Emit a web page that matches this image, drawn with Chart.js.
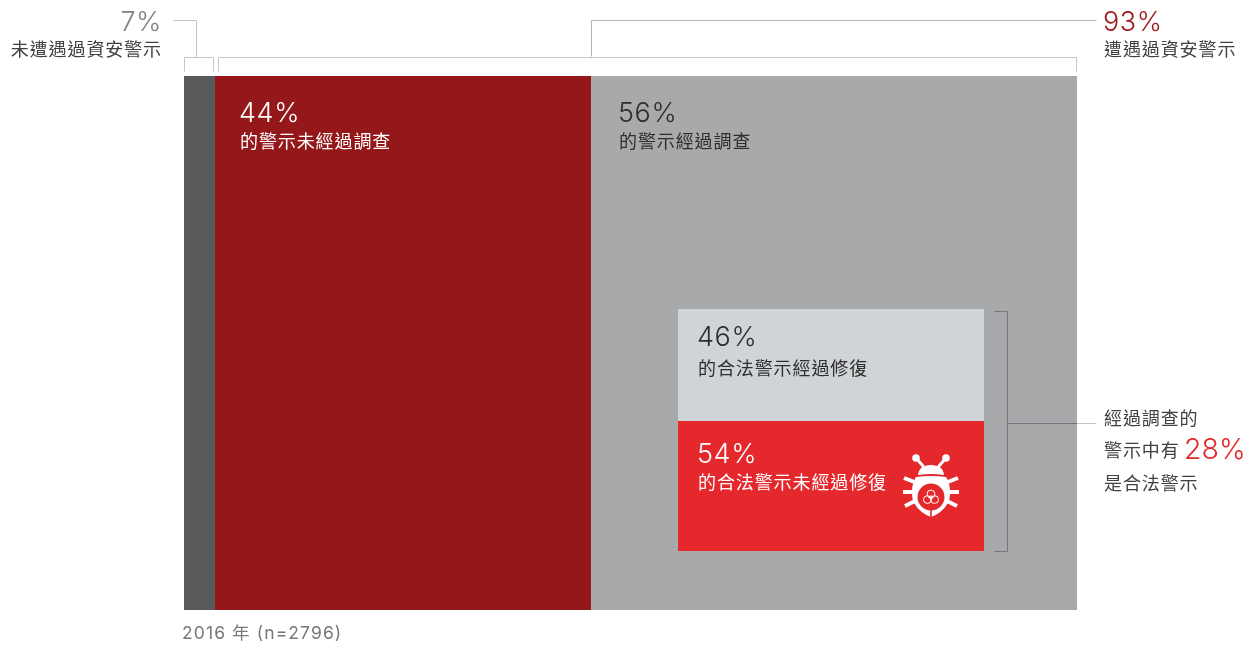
<!DOCTYPE html>
<html>
<head>
<meta charset="utf-8">
<title>資安警示</title>
<script src="https://cdn.jsdelivr.net/npm/chart.js@4"></script>
<style>
html, body { margin: 0; padding: 0; background: #fff; }
canvas { display: block; }
</style>
</head>
<body>
<canvas id="grafico" width="1249" height="646"></canvas>
<script>
// bloques, en % del ancho y alto del area del grafico (medidos de la imagen)
const categorias = ['未遭遇過資安警示', '的警示未經過調查', '的警示經過調查', '的合法警示經過修復', '的合法警示未經過修復'];
const xInicio = [0, 3.47, 45.58, 55.32, 55.32];
const xFin = [3.47, 45.58, 100, 89.59, 89.59];
const yInicio = [0, 0, 0, 43.63, 64.6];
const yFin = [100, 100, 100, 64.6, 88.95];
const colores = ['#58595b', '#94171a', '#a7a9ab', '#d1d4d7', '#e5282c'];

const pctNoAlerta = '7%';
const pctAlerta = '93%';
const pctBloques = ['44%', '56%', '46%', '54%'];
const pctLegal = '28%';
const notaLegal = ['經過調查的', '警示中有', '是合法警示'];
const tituloAlerta = '遭遇過資安警示';
const pie = '2016 年 (n=2796)';

const CJK = '"Noto Sans CJK TC", "Noto Sans", sans-serif';
const NUM = 'Inter, Roboto, sans-serif';

function texto(ctx, t, x, y, color, align, font, sp) {
    ctx.font = font;
    ctx.fillStyle = color;
    ctx.textAlign = align || 'left';
    ctx.textBaseline = 'alphabetic';
    ctx.letterSpacing = sp || '0px';
    ctx.fillText(t, x, y);
}

function pct(ctx, t, x, y, color, align) {
    texto(ctx, t, x, y, color, align, '300 27px ' + NUM, '0.6px');
}

function sub(ctx, t, x, y, color, align) {
    texto(ctx, t, x, y, color, align, '400 18px ' + CJK, '0.9px');
}

function linea(ctx, color, puntos) {
    ctx.strokeStyle = color;
    ctx.lineWidth = 1;
    ctx.beginPath();
    puntos.forEach((p, i) => {
        if (i == 0) ctx.moveTo(p[0] + 0.5, p[1] + 0.5);
        else ctx.lineTo(p[0] + 0.5, p[1] + 0.5);
    });
    ctx.stroke();
}

// el bichito del bloque rojo
function bicho(ctx, cx, cy) {
    ctx.save();
    ctx.translate(cx, cy);
    ctx.fillStyle = '#fff';
    ctx.strokeStyle = '#fff';

    // antenas
    ctx.lineCap = 'round';
    ctx.lineWidth = 3;
    [-1, 1].forEach(s => {
        ctx.beginPath();
        ctx.moveTo(s * 15, -28);
        ctx.lineTo(s * 8, -20);
        ctx.stroke();
        ctx.beginPath();
        ctx.arc(s * 15, -28, 3.8, 0, Math.PI * 2);
        ctx.fill();
    });

    // cabeza
    ctx.beginPath();
    ctx.moveTo(-13, -11);
    ctx.quadraticCurveTo(-12, -21, 0, -21);
    ctx.quadraticCurveTo(12, -21, 13, -11);
    ctx.quadraticCurveTo(0, -13, -13, -11);
    ctx.fill();

    // patas
    ctx.lineCap = 'butt';
    ctx.lineWidth = 4;
    [-1, 1].forEach(s => {
        [[14, -3, 27, -8], [15, 6, 28, 6], [14, 14, 26, 20]].forEach(p => {
            ctx.beginPath();
            ctx.moveTo(s * p[0], p[1]);
            ctx.lineTo(s * p[2], p[3]);
            ctx.stroke();
        });
    });

    // cuerpo
    ctx.beginPath();
    ctx.moveTo(-15, -9);
    ctx.quadraticCurveTo(0, -11, 15, -9);
    ctx.bezierCurveTo(20, -2, 20, 11, 17, 17);
    ctx.quadraticCurveTo(11, 27, 0, 31);
    ctx.quadraticCurveTo(-11, 27, -17, 17);
    ctx.bezierCurveTo(-20, 11, -20, -2, -15, -9);
    ctx.fill();

    // circulo interior y ranura
    ctx.fillStyle = '#e5282c';
    ctx.beginPath();
    ctx.arc(0, 11, 13.5, 0, Math.PI * 2);
    ctx.fill();
    ctx.fillRect(-0.8, 20, 1.6, 12);

    // biohazard
    ctx.strokeStyle = '#fff';
    ctx.lineWidth = 1;
    [[0, 8], [-3.6, 13.6], [3.6, 13.6]].forEach(p => {
        ctx.beginPath();
        ctx.arc(p[0], p[1], 3.9, 0, Math.PI * 2);
        ctx.stroke();
    });
    ctx.beginPath();
    ctx.arc(0, 11.5, 1.6, 0, Math.PI * 2);
    ctx.stroke();
    ctx.restore();
}

// chart.js da el grosor de la barra en pixeles; aqui se pasa al rango de la escala y
const altoPorEscala = {
    id: 'altoPorEscala',
    afterDatasetsUpdate(chart) {
        const y = chart.scales.y;
        chart.getDatasetMeta(0).data.forEach((el, i) => {
            const a = y.getPixelForValue(yInicio[i]);
            const b = y.getPixelForValue(yFin[i]);
            el.y = (a + b) / 2;
            el.height = b - a;
        });
    }
};

const anotaciones = {
    id: 'anotaciones',
    afterDatasetsDraw(chart) {
        const ctx = chart.ctx;
        const { x, y } = chart.scales;
        const px = v => Math.round(x.getPixelForValue(v));
        const py = v => Math.round(y.getPixelForValue(v));
        const arriba = py(0);
        const abajo = py(100);
        const claro = '#c4c5c7';

        ctx.save();

        // corchetes de arriba
        const yCorchete = arriba - 19;
        const yPunta = arriba - 5;
        const yConector = arriba - 56;
        linea(ctx, claro, [[px(xInicio[0]), yPunta], [px(xInicio[0]), yCorchete], [px(xFin[0]) - 2, yCorchete], [px(xFin[0]) - 2, yPunta]]);
        linea(ctx, claro, [[px(xInicio[1]) + 3, yPunta], [px(xInicio[1]) + 3, yCorchete], [px(100) - 1, yCorchete], [px(100) - 1, yPunta]]);
        linea(ctx, claro, [[px(xFin[0] / 2) - 3, yCorchete], [px(xFin[0] / 2) - 3, yConector], [px(xInicio[0]) - 11, yConector]]);
        linea(ctx, '#b4b5b7', [[px(xInicio[2]), yCorchete - 1], [px(xInicio[2]), yConector], [px(100) + 19, yConector]]);

        // corchete del recuadro
        const xCorchete = px(xFin[3]) + 23;
        const yA = py(yInicio[3]) + 2;
        const yB = py(yFin[4]);
        const yMedio = py(yInicio[4]) + 2;
        linea(ctx, '#77787b', [[px(xFin[3]) + 10, yA], [xCorchete, yA], [xCorchete, yB], [px(xFin[3]) + 10, yB]]);
        linea(ctx, '#77787b', [[xCorchete, yMedio], [px(100), yMedio]]);
        linea(ctx, claro, [[px(100), yMedio], [px(100) + 19, yMedio]]);

        // textos de arriba
        const xIzq = px(xInicio[0]) - 23;
        const xDer = px(100) + 27;
        pct(ctx, pctNoAlerta, xIzq + 1, 31, '#808285', 'right');
        sub(ctx, categorias[0], xIzq + 1, 56, '#414042', 'right');
        pct(ctx, pctAlerta, xDer - 1, 31, '#9e1b20');
        sub(ctx, tituloAlerta, xDer, 56, '#414042');

        // textos dentro de los bloques
        pct(ctx, pctBloques[0], px(xInicio[1]) + 24, 122, '#fff');
        sub(ctx, categorias[1], px(xInicio[1]) + 25, 148, '#fff');
        pct(ctx, pctBloques[1], px(xInicio[2]) + 27, 122, '#2e2e2e');
        sub(ctx, categorias[2], px(xInicio[2]) + 28, 148, '#2e2e2e');
        pct(ctx, pctBloques[2], px(xInicio[3]) + 19, py(yInicio[3]) + 37, '#2e2e2e');
        sub(ctx, categorias[3], px(xInicio[3]) + 20, py(yInicio[3]) + 66, '#2e2e2e');
        pct(ctx, pctBloques[3], px(xInicio[4]) + 19, py(yInicio[4]) + 42, '#fff');
        sub(ctx, categorias[4], px(xInicio[4]) + 20, py(yInicio[4]) + 68, '#fff');

        // nota de la derecha
        sub(ctx, notaLegal[0], xDer, 425, '#414042');
        sub(ctx, notaLegal[1], xDer, 457, '#414042');
        texto(ctx, pctLegal, xDer + 80, 459, '#e5282c', 'left', '300 28.5px ' + NUM, '0px');
        sub(ctx, notaLegal[2], xDer, 490, '#414042');

        // pie
        texto(ctx, pie, px(0) - 2, abajo + 29, '#77787b', 'left', '400 17.5px ' + NUM + ', ' + CJK, '1.1px');

        bicho(ctx, px(xFin[4]) - 53, py(yInicio[4]) + 65);
        ctx.restore();
    }
};

new Chart(document.getElementById('grafico'), {
    type: 'bar',
    data: {
        datasets: [{
            label: 'alertas',
            data: categorias.map((c, i) => ({ x: [xInicio[i], xFin[i]], y: (yInicio[i] + yFin[i]) / 2 })),
            backgroundColor: colores,
            borderWidth: 0,
            inflateAmount: 0
        }]
    },
    plugins: [altoPorEscala, anotaciones],
    options: {
        indexAxis: 'y',
        responsive: false,
        animation: false,
        layout: { padding: { left: 184, right: 172, top: 76, bottom: 36 } },
        plugins: {
            legend: { display: false },
            tooltip: { enabled: false }
        },
        scales: {
            x: { type: 'linear', min: 0, max: 100, display: false },
            y: { type: 'linear', min: 0, max: 100, reverse: true, offset: false, display: false }
        }
    }
});
</script>
</body>
</html>
